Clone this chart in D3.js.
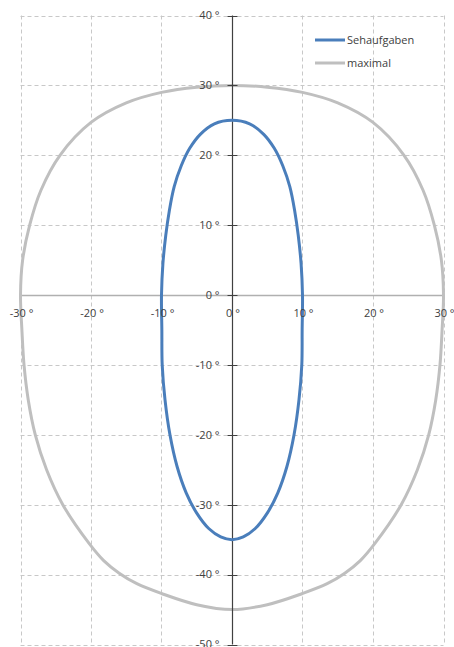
<!DOCTYPE html>
<html><head><meta charset="utf-8">
<script src="https://cdn.jsdelivr.net/npm/d3@7"></script>
<style>
html,body{margin:0;padding:0;background:#fff;overflow:hidden;}
text{font-family:"Open Sans","Liberation Sans",sans-serif;}
</style></head>
<body><svg id="c" width="454" height="647"></svg>
<script>
// Data
const xTicks = [-30,-20,-10,0,10,20,30];
const yTicks = [40,30,20,10,0,-10,-20,-30,-40,-50];
const seriesNames = ["Sehaufgaben","maximal"];
const seriesColors = ["#4a7ebb","#bfbfbf"];
// Sehaufgaben (closed outline, clockwise from top)
const sehaufgabenX = [0,2.5,4.5,6,7.2,8.2,8.9,9.4,9.8,10,9.95,9.9,9.5,8.8,7.8,6.5,5,3.3,1.6,0,-1.6,-3.3,-5,-6.5,-7.8,-8.8,-9.5,-9.9,-9.95,-10,-9.8,-9.4,-8.9,-8.2,-7.2,-6,-4.5,-2.5];
const sehaufgabenY = [25,24.5,23,21,18.5,15.5,12,8.5,4.5,0,-5,-10,-15,-20,-24.5,-28.3,-31.2,-33.4,-34.6,-35,-34.6,-33.4,-31.2,-28.3,-24.5,-20,-15,-10,-5,0,4.5,8.5,12,15.5,18.5,21,23,24.5];
// maximal (closed outline, clockwise from top)
const maximalX = [0,5,10,15,20,24.4,27.1,28.7,29.7,30,29.8,29.5,28.9,27.9,26.3,24,20.3,18.2,16,13.5,10,5,0,-5,-10,-13.5,-16,-18.2,-20.3,-24,-26.3,-27.9,-28.9,-29.5,-29.8,-30,-29.7,-28.7,-27.1,-24.4,-20,-15,-10,-5];
const maximalY = [30,29.75,29,27.5,24.7,20,15,10,5,0,-5,-10,-15,-20,-25,-30,-35.5,-38,-39.8,-41.3,-42.7,-44.3,-45,-44.3,-42.7,-41.3,-39.8,-38,-35.5,-30,-25,-20,-15,-10,-5,0,5,10,15,20,24.7,27.5,29,29.75];

const svg = d3.select("#c");
const x = d3.scaleLinear().domain([-30,30]).range([20.5,443.5]);
const y = d3.scaleLinear().domain([-50,40]).range([644.5,15.5]);

// grid
const g = svg.append("g");
g.selectAll("line.v").data(xTicks.filter(d=>d!==0)).join("line")
 .attr("x1",d=>Math.round(x(d))+0.5).attr("x2",d=>Math.round(x(d))+0.5)
 .attr("y1",y(40)).attr("y2",y(-50))
 .attr("stroke","#c8c8c8").attr("stroke-width",1).attr("stroke-dasharray","4,3");
g.selectAll("line.h").data(yTicks.filter(d=>d!==0)).join("line")
 .attr("y1",d=>Math.round(y(d))+0.5).attr("y2",d=>Math.round(y(d))+0.5)
 .attr("x1",x(-30)).attr("x2",x(30))
 .attr("stroke","#c8c8c8").attr("stroke-width",1).attr("stroke-dasharray","4,3");

// x axis (horizontal at y=0)
svg.append("line").attr("x1",x(-30)).attr("x2",x(30))
 .attr("y1",Math.round(y(0))+0.5).attr("y2",Math.round(y(0))+0.5)
 .attr("stroke","#b0b0b0").attr("stroke-width",1.5);

// series
const line = d3.line().x(d=>x(d[0])).y(d=>y(d[1])).curve(d3.curveCatmullRomClosed.alpha(0.5));
const maxPts = maximalX.map((v,i)=>[v,maximalY[i]]);
const sehPts = sehaufgabenX.map((v,i)=>[v,sehaufgabenY[i]]);
svg.append("path").attr("d",line(maxPts)).attr("fill","none").attr("stroke",seriesColors[1]).attr("stroke-width",3);

// y axis (vertical at x=0)
const x0 = Math.round(x(0))+0.5;
svg.append("line").attr("x1",x0).attr("x2",x0).attr("y1",y(40)).attr("y2",y(-50))
 .attr("stroke","#404040").attr("stroke-width",1.2);
svg.selectAll("line.yt").data(yTicks).join("line")
 .attr("x1",x0-5).attr("x2",x0+5)
 .attr("y1",d=>Math.round(y(d))+0.5).attr("y2",d=>Math.round(y(d))+0.5)
 .attr("stroke","#404040").attr("stroke-width",1);

svg.append("path").attr("d",line(sehPts)).attr("fill","none").attr("stroke",seriesColors[0]).attr("stroke-width",3);

// y labels
svg.selectAll("text.yl").data(yTicks).join("text")
 .attr("x",x0-13).attr("y",d=>y(d)).attr("dy","0.35em")
 .attr("text-anchor","end").attr("font-size",11).attr("fill","#404040")
 .text(d=>d+" °");
// x labels
svg.selectAll("text.xl").data(xTicks).join("text")
 .attr("x",d=>x(d)+1).attr("y",y(0)+18)
 .attr("dy","0.35em")
 .attr("text-anchor","middle").attr("font-size",11).attr("fill","#404040")
 .text(d=>d+" °");

// legend
const lg = svg.append("g");
seriesNames.forEach((n,i)=>{
  const ly = 40 + i*23;
  lg.append("line").attr("x1",315).attr("x2",345).attr("y1",ly).attr("y2",ly)
    .attr("stroke",seriesColors[i]).attr("stroke-width",3);
  lg.append("text").attr("x",347).attr("y",ly).attr("dy","0.35em")
    .attr("font-size",11).attr("fill","#404040").text(n);
});
</script></body></html>
